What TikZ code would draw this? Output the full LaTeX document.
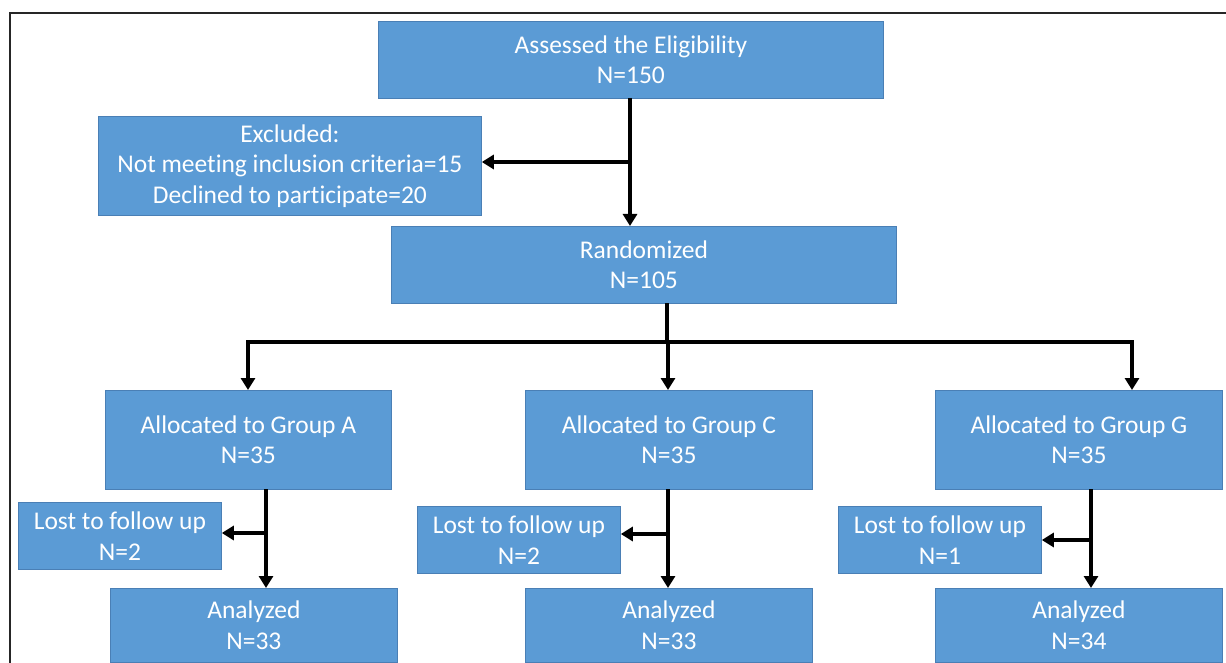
\documentclass[tikz,border=0pt]{standalone}
\usepackage{fontspec}
\setmainfont[Ligatures=NoCommon]{Carlito}
\usetikzlibrary{arrows.meta,calc}
\definecolor{boxfill}{HTML}{5B9BD5}
\definecolor{boxline}{HTML}{4A7FB5}
\tikzset{
  flowbox/.style={draw=boxline, line width=0.8pt, fill=boxfill, text=white,
    align=center, inner sep=0pt, anchor=north west,
    font=\fontsize{25.5}{30.5}\selectfont},
  conn/.style={line width=3.4pt, -{Triangle[length=12pt,width=14pt]}},
  plainconn/.style={line width=3.4pt},
  frame/.style={line width=2pt, black!85}
}
\begin{document}
\begin{tikzpicture}[x=1pt,y=-1pt]
\useasboundingbox (0,0) rectangle (1226,663);
\draw[frame] (9.5,663) -- (9.5,13.5) -- (1226,13.5);

\node[flowbox, minimum width=505pt, minimum height=77pt] (assess) at (378,21) {Assessed the Eligibility\\N=150};
\node[flowbox, minimum width=383pt, minimum height=99pt] (excl) at (98,116) {Excluded:\\Not meeting inclusion criteria=15\\Declined to participate=20};
\node[flowbox, minimum width=505pt, minimum height=77pt] (rand) at (391,226) {Randomized\\N=105};

\node[flowbox, minimum width=286pt, minimum height=99pt] (ga) at (105,390) {Allocated to Group A\\N=35};
\node[flowbox, minimum width=287pt, minimum height=99pt] (gc) at (525,390) {Allocated to Group C\\N=35};
\node[flowbox, minimum width=287pt, minimum height=99pt] (gg) at (935,390) {Allocated to Group G\\N=35};

\node[flowbox, minimum width=203pt, minimum height=67pt] (la) at (18,502) {Lost to follow up\\N=2};
\node[flowbox, minimum width=203pt, minimum height=67pt] (lc) at (417,506) {Lost to follow up\\N=2};
\node[flowbox, minimum width=203pt, minimum height=67pt] (lg) at (838,506) {Lost to follow up\\N=1};

\node[flowbox, minimum width=287pt, minimum height=74pt] (aa) at (110,588) {Analyzed\\N=33};
\node[flowbox, minimum width=287pt, minimum height=74pt] (ac) at (525,588) {Analyzed\\N=33};
\node[flowbox, minimum width=287pt, minimum height=74pt] (ag) at (935,588) {Analyzed\\N=34};

% assessed -> randomized, with exclusion branch
\coordinate (top) at (630,98);
\coordinate (j1) at (630,162);
\draw[conn] (top) -- (top |- rand.north);
\draw[conn] (j1) -- (j1 -| excl.east);

% randomized -> groups
\coordinate (rs) at (667,303);
\coordinate (hb) at (667,342);
\coordinate (hA) at (248,342);
\coordinate (hC) at (668,342);
\coordinate (hG) at (1132,342);
\draw[plainconn] (rs) -- (hb);
\draw[plainconn, line cap=rect] (hA) -- (hG);
\draw[conn] (hA) -- (hA |- ga.north);
\draw[conn] (hC) -- (hC |- gc.north);
\draw[conn] (hG) -- (hG |- gg.north);

% group A
\coordinate (va) at (266,489);
\coordinate (ja) at (266,533);
\draw[conn] (va) -- (va |- aa.north);
\draw[conn] (ja) -- (ja -| la.east);
% group C
\coordinate (vc) at (668,489);
\coordinate (jc) at (668,534);
\draw[conn] (vc) -- (vc |- ac.north);
\draw[conn] (jc) -- (jc -| lc.east);
% group G
\coordinate (vg) at (1091,489);
\coordinate (jg) at (1091,540);
\draw[conn] (vg) -- (vg |- ag.north);
\draw[conn] (jg) -- (jg -| lg.east);
\end{tikzpicture}
\end{document}
